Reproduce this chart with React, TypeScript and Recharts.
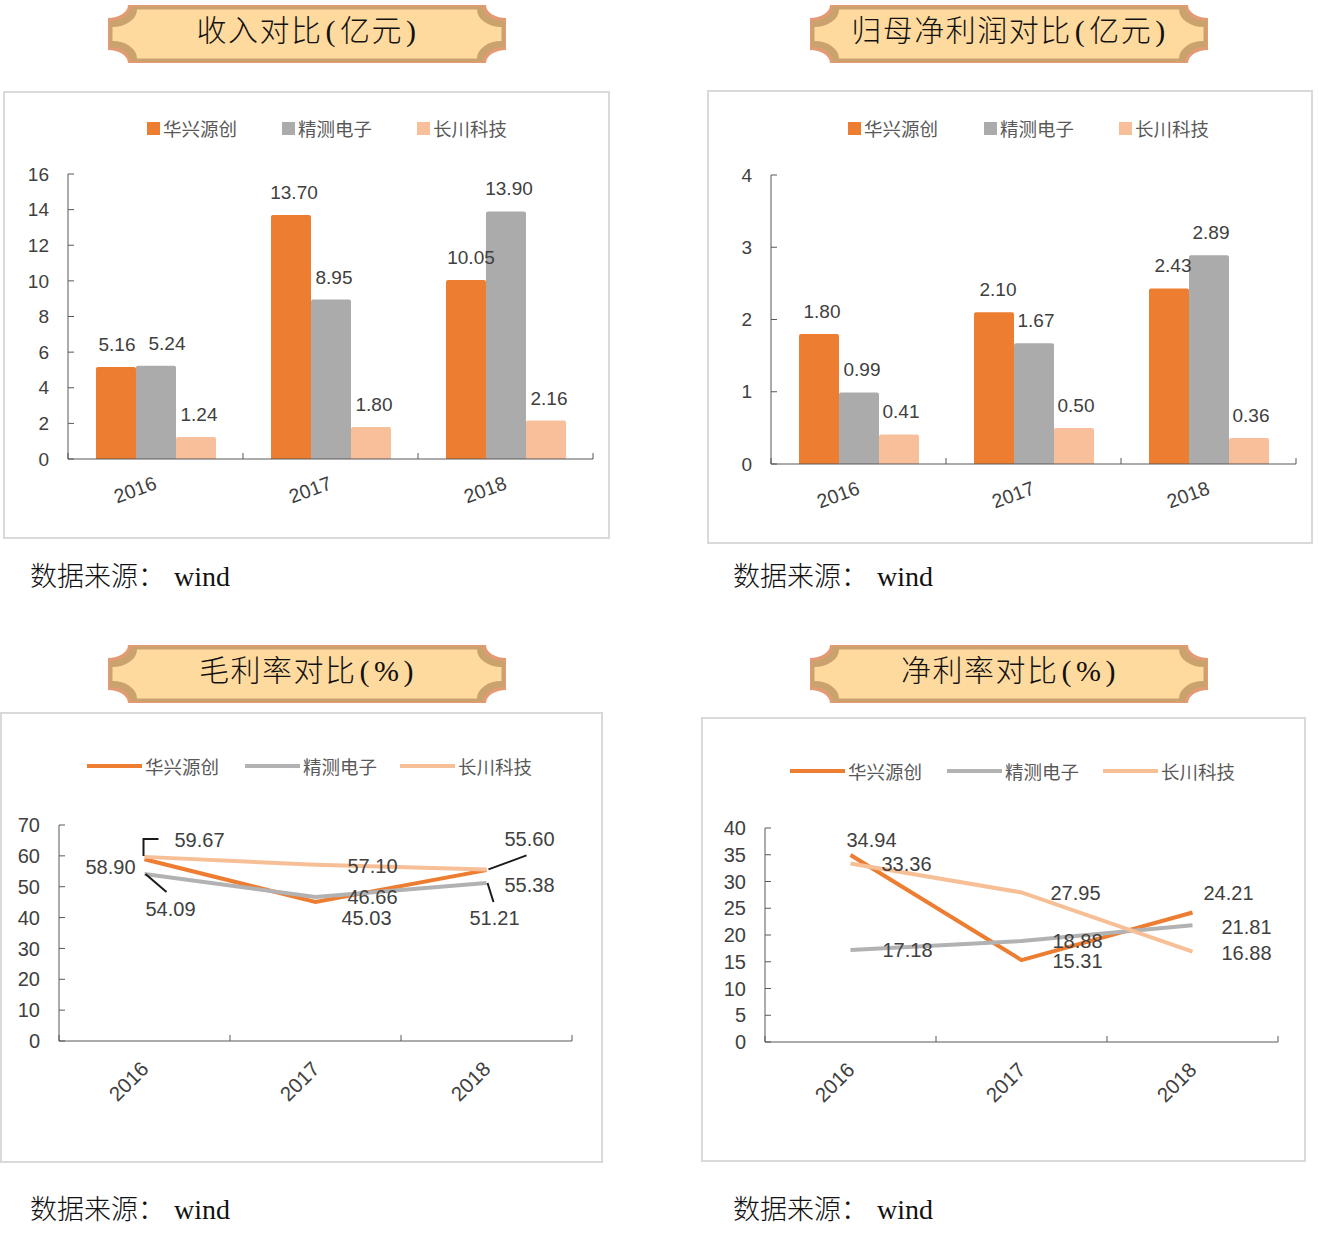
import React from 'react';
import { BarChart, Bar, LineChart, Line, XAxis, YAxis, LabelList } from 'recharts';

const YEARS = ['2016', '2017', '2018'];
const COMPANIES = ['华兴源创', '精测电子', '长川科技'];

// 收入(亿元)
const REVENUE_HXYC = [5.16, 13.7, 10.05];
const REVENUE_JCDZ = [5.24, 8.95, 13.9];
const REVENUE_CCKJ = [1.24, 1.8, 2.16];
// 归母净利润(亿元)
const PROFIT_HXYC = [1.8, 2.1, 2.43];
const PROFIT_JCDZ = [0.99, 1.67, 2.89];
const PROFIT_CCKJ = [0.41, 0.5, 0.36];
// 毛利率(%)
const GROSS_HXYC = [58.9, 45.03, 55.38];
const GROSS_JCDZ = [54.09, 46.66, 51.21];
const GROSS_CCKJ = [59.67, 57.1, 55.6];
// 净利率(%)
const NET_HXYC = [34.94, 15.31, 24.21];
const NET_JCDZ = [17.18, 18.88, 21.81];
const NET_CCKJ = [33.36, 27.95, 16.88];

const REVENUE_TICKS = [0, 2, 4, 6, 8, 10, 12, 14, 16];
const PROFIT_TICKS = [0, 1, 2, 3, 4];
const GROSS_TICKS = [0, 10, 20, 30, 40, 50, 60, 70];
const NET_TICKS = [0, 5, 10, 15, 20, 25, 30, 35, 40];

const KEYS = ['hx', 'jc', 'cc'] as const;
type Key = (typeof KEYS)[number];

const TEXT = '#404040';
const AXIS = '#595959';
const SANS = '"Liberation Sans", "Noto Sans CJK SC", sans-serif';
const SERIF = '"Liberation Serif", "Noto Sans CJK SC", serif';

const BAR_COLORS: Record<Key, string> = { hx: '#ED7D31', jc: '#ABABAB', cc: '#F8C09A' };
const LINE_COLORS: Record<Key, string> = { hx: '#ED7D31', jc: '#B2B2B2', cc: '#F7BF96' };

// horizontal nudge of bar value labels (Excel moves some to avoid overlap)
const REVENUE_LABEL_DX: Record<Key, number[]> = { hx: [1, 3, 5], jc: [11, 3, 3], cc: [3, 3, 3] };
const PROFIT_LABEL_DX: Record<Key, number[]> = { hx: [3, 4, 4], jc: [3, 2, 2], cc: [2, 2, 2] };

// label placement relative to each line point (dx, dy, optional leader polyline)
type Off = { dx: number; dy: number; leader?: number[][] };
const GROSS_LABELS: Record<Key, Off[]> = {
  hx: [{ dx: -34, dy: 8 }, { dx: 51, dy: 16 }, { dx: 43, dy: 15 }],
  jc: [
    { dx: 26, dy: 35, leader: [[1, 0], [22, 18]] },
    { dx: 57, dy: 0 },
    { dx: 8, dy: 35, leader: [[1, 0], [7, 19]] },
  ],
  cc: [
    { dx: 55, dy: -17, leader: [[-1, -1], [-1, -18], [14, -18]] },
    { dx: 57, dy: 1 },
    { dx: 43, dy: -30, leader: [[2, 0], [40, -14]] },
  ],
};
const NET_LABELS: Record<Key, Off[]> = {
  hx: [{ dx: 21, dy: -15 }, { dx: 56, dy: 1 }, { dx: 36, dy: -19 }],
  jc: [{ dx: 57, dy: 0 }, { dx: 56, dy: 0 }, { dx: 54, dy: 2 }],
  cc: [{ dx: 56, dy: 0 }, { dx: 54, dy: 1 }, { dx: 54, dy: 1 }],
};

function rows(a: number[], b: number[], c: number[]) {
  return YEARS.map((year, i) => ({ year, hx: a[i], jc: b[i], cc: c[i] }));
}

const fmt = (v: any) => Number(v).toFixed(2);

function YearTick(props: any) {
  const { x, y, payload, index, angle, dy, size } = props;
  const half = payload?.offset ?? 0;
  const last = index === YEARS.length - 1;
  return (
    <g>
      {half > 0 && <line x1={x - half} x2={x - half} y1={y} y2={y - 6} stroke={AXIS} />}
      {half > 0 && last && <line x1={x + half} x2={x + half} y1={y} y2={y - 6} stroke={AXIS} />}
      <g transform={`translate(${x},${y + dy}) rotate(${angle})`}>
        <text x={0} y={0} textAnchor="end" dominantBaseline="central" fontSize={size} fill={TEXT}>
          {payload.value}
        </text>
      </g>
    </g>
  );
}

function Banner({ x, y, w, h, title }: { x: number; y: number; w: number; h: number; title: string }) {
  const shape = (i: number) => {
    const rx = 20 + i;
    const ry = 13 + i;
    const W = w - i;
    const H = h - i;
    return `M${i + rx},${i} H${W - rx} A${rx},${ry} 0 0 0 ${W},${i + ry} V${H - ry} A${rx},${ry} 0 0 0 ${W - rx},${H} H${i + rx} A${rx},${ry} 0 0 0 ${i},${H - ry} V${i + ry} A${rx},${ry} 0 0 0 ${i + rx},${i} Z`;
  };
  const chars = Array.from(title);
  const isAscii = (c?: string) => !!c && c.charCodeAt(0) < 128;
  return (
    <svg style={{ position: 'absolute', left: x, top: y }} width={w} height={h}>
      <path d={shape(0)} fill="#E39B73" />
      <path d={shape(1.5)} fill="#C9A26E" />
      <path d={shape(4.5)} fill="#FFDA9E" />
      <text
        x={w / 2}
        y={h / 2 - 4}
        textAnchor="middle"
        dominantBaseline="central"
        fontSize={30}
        fontWeight={300}
        letterSpacing={1.5}
        fill="#111"
        fontFamily={SERIF}
      >
        {chars.map((c, i) => (
          <tspan key={i} dx={isAscii(c) || isAscii(chars[i - 1]) ? 3 : 0}>
            {c}
          </tspan>
        ))}
      </text>
    </svg>
  );
}

function Footer({ x, y }: { x: number; y: number }) {
  return (
    <div style={{ position: 'absolute', left: x, top: y - 14, fontSize: 27, fontWeight: 300, lineHeight: '28px', fontFamily: SERIF, color: '#111', whiteSpace: 'nowrap' }}>
      数据来源：<span style={{ marginLeft: 9, fontSize: 28 }}>wind</span>
    </div>
  );
}

type Box = { left: number; top: number; width: number; height: number };
type Plot = { left: number; top: number; right: number; bottom: number };

function Frame({ box }: { box: Box }) {
  return (
    <div style={{ position: 'absolute', left: box.left, top: box.top, width: box.width, height: box.height, border: '2px solid #D9D9D9', boxSizing: 'border-box' }} />
  );
}

function SquareLegend({ xs, y }: { xs: number[]; y: number }) {
  return (
    <>
      {KEYS.map((k, i) => (
        <div key={k} style={{ position: 'absolute', left: xs[i], top: y - 12, height: 24, display: 'flex', alignItems: 'center', fontSize: 18.5, color: '#595959', whiteSpace: 'nowrap' }}>
          <span style={{ width: 13, height: 13, background: BAR_COLORS[k], marginRight: 3, display: 'inline-block' }} />
          {COMPANIES[i]}
        </div>
      ))}
    </>
  );
}

function LineLegend({ xs, y }: { xs: number[]; y: number }) {
  return (
    <>
      {KEYS.map((k, i) => (
        <div key={k} style={{ position: 'absolute', left: xs[i], top: y - 12, height: 24, display: 'flex', alignItems: 'center', fontSize: 18.5, color: '#595959', whiteSpace: 'nowrap' }}>
          <span style={{ width: 55, height: 4, background: LINE_COLORS[k], marginRight: 3, display: 'inline-block' }} />
          {COMPANIES[i]}
        </div>
      ))}
    </>
  );
}

function layout(box: Box, plot: Plot) {
  return {
    margin: { top: plot.top - box.top, right: box.left + box.width - plot.right, bottom: 0, left: 0 },
    yWidth: plot.left - box.left,
    xHeight: box.top + box.height - plot.bottom,
  };
}

const makeBarLabel = (dxs: number[]) => (props: any) => {
  const vb = props.viewBox || {};
  const bx = vb.x ?? props.x;
  const by = vb.y ?? props.y;
  const bw = vb.width ?? props.width ?? 0;
  if (bx == null || by == null) return null;
  const dx = dxs[props.index] ?? 0;
  return (
    <text x={bx + bw / 2 + dx} y={by - 16} textAnchor="middle" fontSize={19} fill={TEXT}>
      {fmt(props.value)}
    </text>
  );
};

function BarPanel({ box, plot, data, ticks, labelDx }: { box: Box; plot: Plot; data: any[]; ticks: number[]; labelDx: Record<Key, number[]> }) {
  const { margin, yWidth, xHeight } = layout(box, plot);
  return (
    <>
      <Frame box={box} />
      <div style={{ position: 'absolute', left: box.left, top: box.top }}>
        <BarChart width={box.width} height={box.height} data={data} margin={margin} barGap={0} barCategoryGap="16%">
          <XAxis
            dataKey="year"
            height={xHeight}
            interval={0}
            axisLine={{ stroke: AXIS }}
            tickLine={false}
            tickSize={0}
            tickMargin={0}
            tick={<YearTick angle={-20} dy={23} size={19.5} />}
          />
          <YAxis
            type="number"
            width={yWidth}
            domain={[ticks[0], ticks[ticks.length - 1]]}
            ticks={ticks}
            interval={0}
            axisLine={{ stroke: AXIS }}
            tickLine={{ stroke: AXIS }}
            tickSize={-6}
            tickMargin={25}
            tick={{ fontSize: 19, fill: TEXT }}
          />
          {KEYS.map((k) => (
            <Bar key={k} dataKey={k} fill={BAR_COLORS[k]} radius={[2, 2, 0, 0]} isAnimationActive={false}>
              <LabelList dataKey={k} content={makeBarLabel(labelDx[k])} />
            </Bar>
          ))}
        </BarChart>
      </div>
    </>
  );
}

const makeLineLabel = (offs: Off[]) => (props: any) => {
  const vb = props.viewBox || {};
  const px = vb.x ?? props.x;
  const py = vb.y ?? props.y;
  const o = offs[props.index];
  if (px == null || py == null || !o) return null;
  return (
    <g>
      {o.leader && (
        <polyline points={o.leader.map(([a, b]) => `${px + a},${py + b}`).join(' ')} fill="none" stroke="#1a1a1a" strokeWidth={2} />
      )}
      <text x={px + o.dx} y={py + o.dy} textAnchor="middle" dominantBaseline="central" fontSize={20} fill={TEXT}>
        {fmt(props.value)}
      </text>
    </g>
  );
};

function LinePanel({ box, plot, data, ticks, labels }: { box: Box; plot: Plot; data: any[]; ticks: number[]; labels: Record<Key, Off[]> }) {
  const { margin, yWidth, xHeight } = layout(box, plot);
  return (
    <>
      <Frame box={box} />
      <div style={{ position: 'absolute', left: box.left, top: box.top }}>
        <LineChart width={box.width} height={box.height} data={data} margin={margin}>
          <XAxis
            dataKey="year"
            scale="band"
            height={xHeight}
            interval={0}
            axisLine={{ stroke: AXIS }}
            tickLine={false}
            tickSize={0}
            tickMargin={0}
            tick={<YearTick angle={-45} dy={24} size={20.5} />}
          />
          <YAxis
            type="number"
            width={yWidth}
            domain={[ticks[0], ticks[ticks.length - 1]]}
            ticks={ticks}
            interval={0}
            axisLine={{ stroke: AXIS }}
            tickLine={{ stroke: AXIS }}
            tickSize={-6}
            tickMargin={25}
            tick={{ fontSize: 20, fill: TEXT }}
          />
          {KEYS.map((k) => (
            <Line
              key={k}
              type="linear"
              dataKey={k}
              stroke={LINE_COLORS[k]}
              strokeWidth={4}
              dot={false}
              activeDot={false}
              isAnimationActive={false}
            >
              <LabelList dataKey={k} content={makeLineLabel(labels[k])} />
            </Line>
          ))}
        </LineChart>
      </div>
    </>
  );
}

export default function App() {
  return (
    <div style={{ position: 'absolute', left: 0, top: 0, width: 1318, height: 1240, background: '#fff', fontFamily: SANS, overflow: 'hidden' }}>
      <Banner x={108} y={5} w={398} h={58} title="收入对比(亿元)" />
      <Banner x={810} y={5} w={398} h={58} title="归母净利润对比(亿元)" />
      <Banner x={108} y={645} w={398} h={58} title="毛利率对比(%)" />
      <Banner x={810} y={645} w={398} h={58} title="净利率对比(%)" />

      <BarPanel
        box={{ left: 3, top: 91, width: 607, height: 448 }}
        plot={{ left: 68, top: 174, right: 593, bottom: 459 }}
        data={rows(REVENUE_HXYC, REVENUE_JCDZ, REVENUE_CCKJ)}
        ticks={REVENUE_TICKS}
        labelDx={REVENUE_LABEL_DX}
      />
      <SquareLegend xs={[147, 282, 417]} y={128} />

      <BarPanel
        box={{ left: 707, top: 90, width: 606, height: 454 }}
        plot={{ left: 771, top: 175, right: 1296, bottom: 464 }}
        data={rows(PROFIT_HXYC, PROFIT_JCDZ, PROFIT_CCKJ)}
        ticks={PROFIT_TICKS}
        labelDx={PROFIT_LABEL_DX}
      />
      <SquareLegend xs={[848, 984, 1119]} y={128} />

      <LinePanel
        box={{ left: 0, top: 712, width: 603, height: 451 }}
        plot={{ left: 59, top: 825, right: 572, bottom: 1041 }}
        data={rows(GROSS_HXYC, GROSS_JCDZ, GROSS_CCKJ)}
        ticks={GROSS_TICKS}
        labels={GROSS_LABELS}
      />
      <LineLegend xs={[87, 245, 400]} y={766} />

      <LinePanel
        box={{ left: 701, top: 717, width: 605, height: 445 }}
        plot={{ left: 765, top: 828, right: 1278, bottom: 1042 }}
        data={rows(NET_HXYC, NET_JCDZ, NET_CCKJ)}
        ticks={NET_TICKS}
        labels={NET_LABELS}
      />
      <LineLegend xs={[790, 947, 1103]} y={771} />

      <Footer x={30} y={577} />
      <Footer x={733} y={577} />
      <Footer x={30} y={1210} />
      <Footer x={733} y={1210} />
    </div>
  );
}
